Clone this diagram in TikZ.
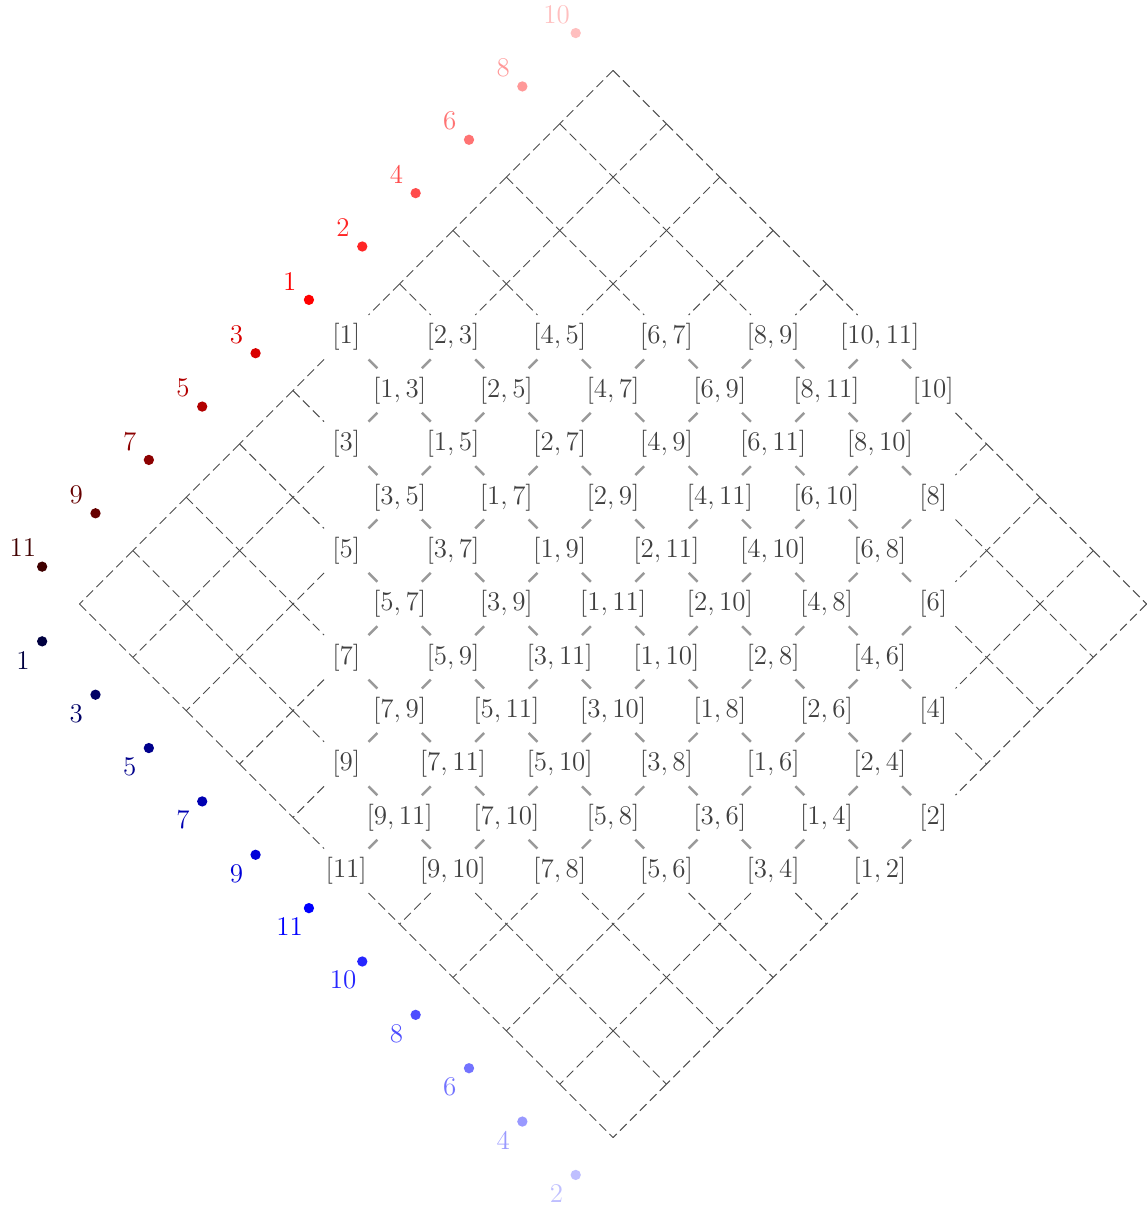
\documentclass[tikz,border=0pt]{standalone}
\usepackage{tikz}
\usetikzlibrary{calc}
\tikzset{
  cell/.style={font=\Large, text=black!75, inner sep=.3333em},
  link/.style={black!40, line width=1.3pt},
  wire/.style={black!70, line width=0.5pt, dash pattern=on 5pt off 2.5pt},
  dot/.style={circle, fill=#1, inner sep=0pt, minimum size=5.5pt},
  num/.style={font=\Large, text=#1, inner sep=0pt},
}
\newcommand\cellin[3]{%
  \pgfmathtruncatemacro#1{and(and(#3-#2>-6,#3-#2<7),and(#2+#3>4,#2+#3<16))}}

\begin{document}
\begin{tikzpicture}
  \useasboundingbox (-11.49,-11.32) rectangle (10,11.32);
  \foreach \x/\y/\txt in {
    -5/5/{1}, -3/5/{2,3}, -1/5/{4,5}, 1/5/{6,7}, 3/5/{8,9}, 5/5/{10,11},
    -4/4/{1,3}, -2/4/{2,5}, 0/4/{4,7}, 2/4/{6,9}, 4/4/{8,11}, 6/4/{10},
    -5/3/{3}, -3/3/{1,5}, -1/3/{2,7}, 1/3/{4,9}, 3/3/{6,11}, 5/3/{8,10},
    -4/2/{3,5}, -2/2/{1,7}, 0/2/{2,9}, 2/2/{4,11}, 4/2/{6,10}, 6/2/{8},
    -5/1/{5}, -3/1/{3,7}, -1/1/{1,9}, 1/1/{2,11}, 3/1/{4,10}, 5/1/{6,8},
    -4/0/{5,7}, -2/0/{3,9}, 0/0/{1,11}, 2/0/{2,10}, 4/0/{4,8}, 6/0/{6},
    -5/-1/{7}, -3/-1/{5,9}, -1/-1/{3,11}, 1/-1/{1,10}, 3/-1/{2,8}, 5/-1/{4,6},
    -4/-2/{7,9}, -2/-2/{5,11}, 0/-2/{3,10}, 2/-2/{1,8}, 4/-2/{2,6}, 6/-2/{4},
    -5/-3/{9}, -3/-3/{7,11}, -1/-3/{5,10}, 1/-3/{3,8}, 3/-3/{1,6}, 5/-3/{2,4},
    -4/-4/{9,11}, -2/-4/{7,10}, 0/-4/{5,8}, 2/-4/{3,6}, 4/-4/{1,4}, 6/-4/{2},
    -5/-5/{11}, -3/-5/{9,10}, -1/-5/{7,8}, 1/-5/{5,6}, 3/-5/{3,4}, 5/-5/{1,2}}{
    \pgfmathtruncatemacro\i{(10-(\y)-(\x))/2}
    \pgfmathtruncatemacro\j{(10-(\y)+(\x))/2}
    \node[cell] (v\i-\j) at (\x,\y) {$[\txt]$};
  }
  \foreach \i in {0,...,10}{\foreach \j in {0,...,10}{
    \pgfmathtruncatemacro\x{\j-\i}
    \pgfmathtruncatemacro\s{\i+\j}
    \cellin\ina\i\j
    \ifnum\ina=0 \coordinate (v\i-\j) at (\x,10-\s); \fi
  }}
  \foreach \i in {0,...,10}{\foreach \j in {0,...,10}{
    \pgfmathtruncatemacro\ii{\i+1}
    \pgfmathtruncatemacro\jj{\j+1}
    \cellin\ina\i\j
    \pgfmathsetmacro\sa{0.59*\ina}
    \ifnum\i<10 \cellin\inb\ii\j
      \pgfmathsetmacro\sb{0.59*\inb}
      \ifnum\ina\inb=11 \draw[link, shorten <=\sa cm, shorten >=\sb cm] (v\i-\j.center) -- (v\ii-\j.center);
      \else \draw[wire, shorten <=\sa cm, shorten >=\sb cm] (v\i-\j.center) -- (v\ii-\j.center); \fi
    \fi
    \ifnum\j<10 \cellin\inb\i\jj
      \pgfmathsetmacro\sb{0.59*\inb}
      \ifnum\ina\inb=11 \draw[link, shorten <=\sa cm, shorten >=\sb cm] (v\i-\j.center) -- (v\i-\jj.center);
      \else \draw[wire, shorten <=\sa cm, shorten >=\sb cm] (v\i-\j.center) -- (v\i-\jj.center); \fi
    \fi
  }}
  \foreach \txt/\c [count=\k from 0] in {10/red!25, 8/red!40, 6/red!55, 4/red!70,
      2/red!85, 1/red, 3/red!85!black, 5/red!70!black, 7/red!55!black,
      9/red!40!black, 11/red!25!black}{
    \node[dot=\c] (r\k) at (-0.7-\k,10.7-\k) {};
    \node[num=\c] (rn\k) at ($(r\k)+(-0.36,0.35)$) {\txt};
  }
  \foreach \txt/\c [count=\k from 0] in {1/blue!25!black, 3/blue!40!black,
      5/blue!55!black, 7/blue!70!black, 9/blue!85!black, 11/blue, 10/blue!85,
      8/blue!70, 6/blue!55, 4/blue!40, 2/blue!25}{
    \node[dot=\c] (b\k) at (-10.7+\k,-0.7-\k) {};
    \node[num=\c] (bn\k) at ($(b\k)+(-0.36,-0.35)$) {\txt};
  }
\end{tikzpicture}
\end{document}
